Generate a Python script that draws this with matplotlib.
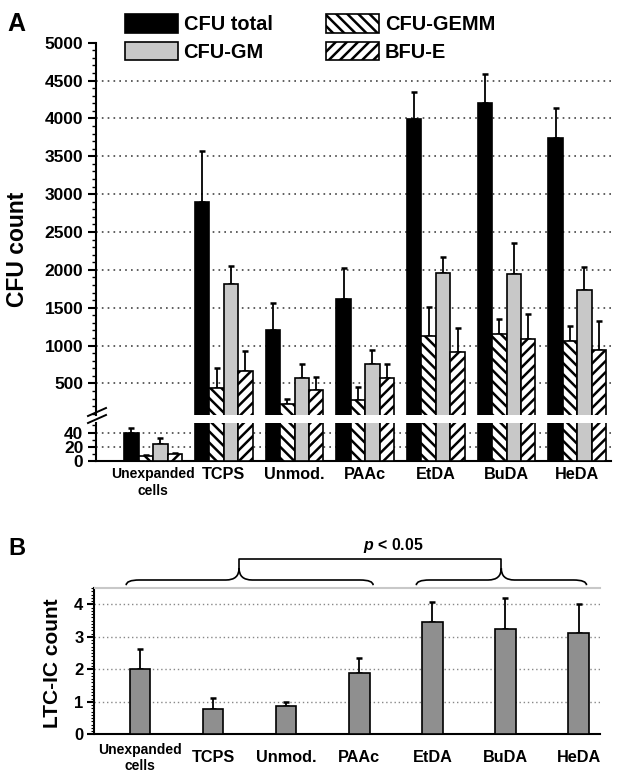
import numpy as np
import matplotlib
matplotlib.use('Agg')
import matplotlib.pyplot as plt
import matplotlib.patches as mpatches
from matplotlib.path import Path
from matplotlib.lines import Line2D
from matplotlib.ticker import MultipleLocator

plt.rcParams['font.family'] = ['Liberation Sans', 'DejaVu Sans']
plt.rcParams['font.weight'] = 'bold'
plt.rcParams['hatch.linewidth'] = 1.8
plt.rcParams['hatch.color'] = 'black'
plt.rcParams['mathtext.fontset'] = 'custom'
plt.rcParams['mathtext.it'] = 'Liberation Sans:italic:bold'
plt.rcParams['mathtext.rm'] = 'Liberation Sans:bold'

# データ (panel A: CFU counts, panel B: LTC-IC counts)
groups = ['Unexpanded\ncells', 'TCPS', 'Unmod.', 'PAAc', 'EtDA', 'BuDA', 'HeDA']
cfu_total = [40, 2890, 1200, 1615, 3995, 4205, 3740]
cfu_total_err = [6, 680, 368, 412, 350, 383, 400]
cfu_gemm = [7, 440, 225, 280, 1123, 1158, 1057]
cfu_gemm_err = [2, 260, 65, 172, 386, 193, 206]
cfu_gm = [24, 1807, 566, 763, 1956, 1947, 1737]
cfu_gm_err = [8, 248, 188, 184, 211, 404, 298]
bfu_e = [10, 658, 412, 570, 912, 1092, 939]
bfu_e_err = [2, 268, 167, 189, 316, 329, 386]

ltc_ic = [2.0, 0.77, 0.88, 1.89, 3.46, 3.24, 3.11]
ltc_ic_err = [0.62, 0.36, 0.12, 0.46, 0.60, 0.96, 0.89]

W, H = 618, 780
fig = plt.figure(figsize=(W / 100, H / 100), dpi=100)


def px(x0, y0, x1, y1):
    # pixel box -> figure fraction
    return [x0 / W, 1 - y1 / H, (x1 - x0) / W, (y1 - y0) / H]


ax_top = fig.add_axes(px(96, 42.7, 611, 415))
ax_low = fig.add_axes(px(96, 423, 611, 461.3))
ax_b = fig.add_axes(px(94.5, 588, 600, 734.3))

x = np.arange(len(groups))
w = 0.204
series = [(cfu_total, cfu_total_err, 'black', None, 'CFU total'),
          (cfu_gemm, cfu_gemm_err, 'white', '\\\\\\', 'CFU-GEMM'),
          (cfu_gm, cfu_gm_err, '#c8c8c8', None, 'CFU-GM'),
          (bfu_e, bfu_e_err, 'white', '///', 'BFU-E')]

handles = {}
for ax in (ax_top, ax_low):
    for i, (vals, err, fc, hatch, name) in enumerate(series):
        xi = x + (i - 1.5) * w
        b = ax.bar(xi, vals, w, color=fc, edgecolor='black', linewidth=1.2,
                   hatch=hatch, zorder=3)
        ax.errorbar(xi, vals, yerr=[np.zeros(len(vals)), err], fmt='none',
                    ecolor='black', elinewidth=1.3, capsize=2.5, capthick=1.8,
                    zorder=2)
        handles[name] = b
    ax.set_xlim(-0.808, 6.477)
    ax.spines['top'].set_visible(False)
    ax.spines['right'].set_visible(False)
    ax.spines['left'].set_linewidth(1.5)
    ax.spines['bottom'].set_linewidth(1.5)
    ax.tick_params(axis='y', which='major', length=6, width=1.5, labelsize=12.5, pad=3)
    ax.tick_params(axis='y', which='minor', length=3, width=1)

# upper part of broken axis
ax_top.set_ylim(83, 5000)
ax_top.set_yticks(range(500, 5001, 500))
ax_top.yaxis.set_minor_locator(MultipleLocator(100))
ax_top.spines['bottom'].set_visible(False)
ax_top.set_xticks([])
for t in range(500, 5000, 500):
    ax_top.axhline(t, color='#444444', lw=1.2, ls=(0, (1, 2.5)), zorder=1)

# lower part
ax_low.set_ylim(0, 53.4)
ax_low.set_yticks([0, 20, 40])
ax_low.yaxis.set_minor_locator(MultipleLocator(10))
for t in [20, 40]:
    ax_low.axhline(t, color='#444444', lw=1.2, ls=(0, (1, 2.5)), zorder=1)
ax_low.set_xticks(x)
ax_low.set_xticklabels(groups)
ax_low.tick_params(axis='x', length=0, pad=4, labelsize=11.7)
ax_low.get_xticklabels()[0].set_fontsize(10)
ax_low.get_xticklabels()[0].set_linespacing(1.25)

# break marks
for dy in (0, 7):
    fig.add_artist(Line2D([88 / W, 106 / W], [1 - (416 + dy) / H, 1 - (408 + dy) / H],
                          color='black', lw=1.4))

fig.text(18 / W, 1 - 249 / H, 'CFU count', rotation=90, ha='center', va='center',
         fontsize=16.5)
fig.text(7 / W, 1 - 31 / H, 'A', fontsize=18, va='baseline')

order = ['CFU total', 'CFU-GM', 'CFU-GEMM', 'BFU-E']
fig.legend([handles[k] for k in order], order, ncol=2, loc='upper left',
           bbox_to_anchor=(125 / W, 1 - 14 / H), frameon=False, borderpad=0,
           borderaxespad=0, fontsize=14.4, handlelength=2.65, handleheight=1.05,
           handletextpad=0.28, columnspacing=2.7, labelspacing=0.38)

# panel B
ax_b.bar(x, ltc_ic, 0.28, color='#8f8f8f', edgecolor='black', linewidth=1.2, zorder=3)
ax_b.errorbar(x, ltc_ic, yerr=[np.zeros(len(ltc_ic)), ltc_ic_err], fmt='none',
              ecolor='black', elinewidth=1.3, capsize=2.5, capthick=1.8, zorder=2)
ax_b.set_xlim(-0.623, 6.294)
ax_b.set_ylim(0, 4.5)
ax_b.set_yticks([0, 1, 2, 3, 4])
ax_b.yaxis.set_minor_locator(MultipleLocator(0.1))
for t in [1, 2, 3, 4]:
    ax_b.axhline(t, color='#888888', lw=1.0, ls=(0, (1, 2)), zorder=1)
ax_b.spines['right'].set_visible(False)
ax_b.spines['top'].set_color('#c8c8c8')
ax_b.spines['top'].set_linewidth(1.5)
ax_b.spines['left'].set_linewidth(1.5)
ax_b.spines['bottom'].set_linewidth(1.5)
ax_b.tick_params(axis='y', which='major', length=5, width=1.5, labelsize=12, pad=3)
ax_b.tick_params(axis='y', which='minor', length=2.5, width=0.8)
ax_b.set_xticks(x)
ax_b.set_xticklabels(groups)
ax_b.tick_params(axis='x', length=0, pad=17, labelsize=11.7)
for lab in ax_b.get_xticklabels():
    lab.set_va('center')
ax_b.get_xticklabels()[0].set_fontsize(10)
ax_b.get_xticklabels()[0].set_linespacing(1.25)

fig.text(53 / W, 1 - 663 / H, 'LTC-IC count', rotation=90, ha='center', va='center',
         fontsize=15)
fig.text(8 / W, 1 - 555 / H, 'B', fontsize=17, va='baseline')


def brace(ax, x0, x1, xt, y, h, r=0.18, d=0.16):
    # curly brace from x0 to x1 with its tip at xt pointing up
    verts = [(x0, y - d), (x0, y), (x0 + r, y), (xt - r, y), (xt, y), (xt, y + h),
             (xt, y), (xt + r, y), (x1 - r, y), (x1, y), (x1, y - d)]
    codes = [Path.MOVETO, Path.CURVE3, Path.CURVE3, Path.LINETO, Path.CURVE3, Path.CURVE3,
             Path.CURVE3, Path.CURVE3, Path.LINETO, Path.CURVE3, Path.CURVE3]
    ax.add_patch(mpatches.PathPatch(Path(verts, codes), fill=False, lw=1.2,
                                    edgecolor='black', clip_on=False))


brace(ax_b, -0.19, 3.19, 1.355, 4.746, 0.36)
brace(ax_b, 3.78, 6.11, 4.943, 4.746, 0.36)
ax_b.plot([1.355, 1.355, 4.943, 4.943], [5.106, 5.383, 5.383, 5.106], color='black',
          lw=1.2, clip_on=False)
ax_b.text(3.47, 5.67, '$p$ < 0.05', ha='center', va='baseline', fontsize=11.4)

fig.savefig('out.png', dpi=100)
